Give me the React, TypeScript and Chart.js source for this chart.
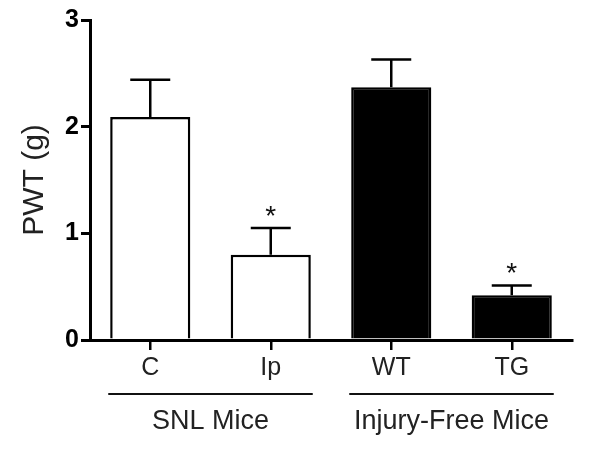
import React, { useEffect, useRef } from "react";
import { Chart, registerables } from "chart.js";

Chart.register(...registerables);

const categories = ["C", "Ip", "WT", "TG"];
const means = [2.09, 0.8, 2.37, 0.42];
const errors = [0.35, 0.25, 0.26, 0.09];
const significant = [false, true, false, true];
const fillColors = ["#ffffff", "#ffffff", "#000000", "#000000"];
const yTicks = [0, 1, 2, 3];
const groupLabels = ["SNL Mice", "Injury-Free Mice"];
const groupFirst = [0, 2];
const groupLast = [1, 3];

const FONT = "'Liberation Sans', Arial, Helvetica, sans-serif";

const annotations = {
  id: "annotations",
  afterDatasetsDraw(chart: any) {
    const ctx = chart.ctx;
    const x = chart.scales.x;
    const y = chart.scales.y;
    ctx.save();
    ctx.strokeStyle = "#000";
    ctx.lineWidth = 2.5;
    ctx.fillStyle = "#111";
    means.forEach((m, i) => {
      const cx = x.getPixelForValue(i);
      const yTop = y.getPixelForValue(m);
      const yErr = y.getPixelForValue(m + errors[i]);
      ctx.beginPath();
      ctx.moveTo(cx, yTop);
      ctx.lineTo(cx, yErr);
      ctx.moveTo(cx - 20, yErr);
      ctx.lineTo(cx + 20, yErr);
      ctx.stroke();
      if (significant[i]) {
        ctx.font = `28px ${FONT}`;
        ctx.textAlign = "center";
        ctx.textBaseline = "middle";
        ctx.fillText("*", cx, yErr - 11);
      }
    });
    ctx.restore();
  },
  afterDraw(chart: any) {
    const ctx = chart.ctx;
    const x = chart.scales.x;
    ctx.save();
    ctx.strokeStyle = "#111";
    ctx.fillStyle = "#222";
    ctx.lineWidth = 1.8;
    groupLabels.forEach((g, i) => {
      const x0 = x.getPixelForValue(groupFirst[i]) - 42;
      const x1 = x.getPixelForValue(groupLast[i]) + 42;
      ctx.beginPath();
      ctx.moveTo(x0, 394);
      ctx.lineTo(x1, 394);
      ctx.stroke();
      ctx.font = `27px ${FONT}`;
      ctx.textAlign = "center";
      ctx.textBaseline = "middle";
      ctx.fillText(g, (x0 + x1) / 2, 422);
    });
    ctx.restore();
  },
};

export default function App() {
  const ref = useRef<HTMLCanvasElement>(null);
  useEffect(() => {
    document.body.style.margin = "0";
    const chart = new Chart(ref.current as HTMLCanvasElement, {
      type: "bar",
      data: {
        labels: categories,
        datasets: [
          {
            data: means,
            backgroundColor: fillColors,
            borderColor: "#000",
            borderWidth: 2.5,
            barPercentage: 0.665,
            categoryPercentage: 1,
          },
        ],
      },
      options: {
        responsive: false,
        animation: false,
        layout: { padding: { top: 20, right: 28, left: 0, bottom: 0 } },
        plugins: { legend: { display: false }, tooltip: { enabled: false } },
        scales: {
          x: {
            afterFit(scale: any) {
              scale.height = 115;
            },
            border: { display: true, color: "#000", width: 3 },
            grid: {
              display: true,
              offset: false,
              drawOnChartArea: false,
              drawTicks: true,
              tickLength: 10,
              color: "#000",
              lineWidth: 2.5,
            },
            ticks: {
              color: "#222",
              font: { family: FONT, size: 25 },
              padding: 3,
            },
          },
          y: {
            min: 0,
            max: 3,
            afterFit(scale: any) {
              scale.width = 90;
            },
            afterBuildTicks(scale: any) {
              scale.ticks = yTicks.map((v) => ({ value: v }));
            },
            border: { display: true, color: "#000", width: 3 },
            grid: {
              display: true,
              drawOnChartArea: false,
              drawTicks: true,
              tickLength: 9,
              color: "#000",
              lineWidth: 3,
            },
            ticks: {
              color: "#000",
              font: { family: FONT, size: 25, weight: "bold" },
              padding: 2,
            },
            title: {
              display: true,
              text: "PWT (g)",
              color: "#222",
              font: { family: FONT, size: 30 },
              padding: { top: 17, bottom: 0 },
            },
          },
        },
      },
      plugins: [annotations],
    });
    return () => chart.destroy();
  }, []);
  return <canvas ref={ref} width={600} height={455} />;
}
